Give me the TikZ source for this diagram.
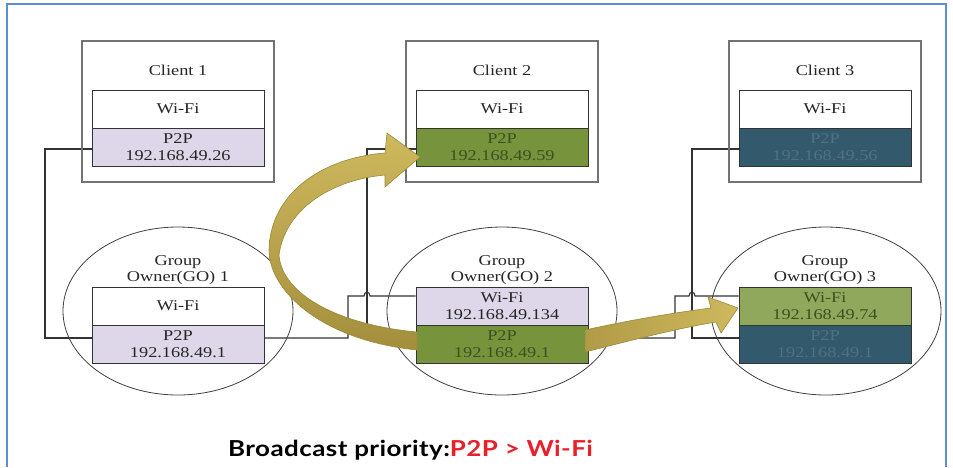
\documentclass[tikz,border=0pt]{standalone}
\usepackage{fontspec}
\usetikzlibrary{shapes.geometric}
\newfontfamily\boxfont[FakeStretch=1.22]{Liberation Serif}
\newfontfamily\capfont[FakeStretch=1.18, LetterSpace=2]{Lato}

\definecolor{framecol}{HTML}{5B8ED6}
\definecolor{lav}{HTML}{DDD7E9}
\definecolor{grn}{HTML}{77933C}
\definecolor{ltgrn}{HTML}{8FA85C}
\definecolor{teal}{HTML}{33596D}
\definecolor{grntext}{HTML}{3A5220}
\definecolor{tealtext}{HTML}{50717F}
\definecolor{gold}{HTML}{CFB95E}
\definecolor{olive}{HTML}{A38E3C}
\definecolor{arrowedge}{HTML}{9A8A3A}
\definecolor{capred}{HTML}{E8202A}

\pgfdeclarelayer{wires}
\pgfdeclarelayer{backdrop}
\pgfsetlayers{backdrop,wires,main}

\tikzset{
  clientbox/.style={draw=black!55, line width=1.3pt, rectangle, inner sep=0pt,
    minimum width=192pt, minimum height=141pt},
  cell/.style={draw=black!80, line width=0.8pt, rectangle, inner sep=0pt,
    minimum width=172pt, minimum height=38pt, align=center,
    font=\boxfont\fontsize{15}{17}\selectfont, text=black!85},
  title/.style={align=center, font=\boxfont\fontsize{15}{16}\selectfont, text=black!85},
  goshape/.style={draw=black!75, line width=0.8pt, ellipse, inner sep=0pt,
    minimum width=230pt, minimum height=168pt},
  wire/.style={draw=black!80, line width=1.1pt},
  bigarrow/.style={draw=arrowedge, line width=0.6pt},
}

\begin{document}
\begin{tikzpicture}[x=1pt, y=-1pt]
\useasboundingbox (0,0) rectangle (953,467);
\begin{pgfonlayer}{backdrop}
\fill[white] (0,0) rectangle (953,467);
\end{pgfonlayer}

% slide frame
\draw[framecol, line width=1.6pt] (7,467) -- (7,4) -- (946,4) -- (946,467);

% group owners
\node[goshape] (g1) at (178,311) {};
\node[goshape] (g2) at (502,311) {};
\node[goshape] (g3) at (826,311) {};

% clients
\node[clientbox] (c1) at (178,111.5) {};
\node[title] (c1t) at (178,70) {Client 1};
\node[cell, fill=white] (c1w) at (178,109) {Wi-Fi};
\node[cell, fill=lav] (c1p) at (178,147) {P2P\\192.168.49.26};

\node[clientbox] (c2) at (502,111.5) {};
\node[title] (c2t) at (502,70) {Client 2};
\node[cell, fill=white] (c2w) at (502,109) {Wi-Fi};
\node[cell, fill=grn, text=grntext] (c2p) at (502,147) {P2P\\192.168.49.59};

\node[clientbox] (c3) at (825,111.5) {};
\node[title] (c3t) at (825,70) {Client 3};
\node[cell, fill=white] (c3w) at (825,109) {Wi-Fi};
\node[cell, fill=teal, text=tealtext] (c3p) at (825,147) {P2P\\192.168.49.56};

% group owner interfaces
\node[title] (g1t) at (178,270) {Group\\Owner(GO) 1};
\node[cell, fill=white] (g1w) at (178,306) {Wi-Fi};
\node[cell, fill=lav] (g1p) at (178,344) {P2P\\192.168.49.1};

\node[title] (g2t) at (502,270) {Group\\Owner(GO) 2};
\node[cell, fill=lav] (g2w) at (502,306) {Wi-Fi\\192.168.49.134};
\node[cell, fill=grn, text=grntext] (g2p) at (502,344) {P2P\\192.168.49.1};

\node[title] (g3t) at (825,270) {Group\\Owner(GO) 3};
\node[cell, fill=ltgrn, text=grntext] (g3w) at (825,306) {Wi-Fi\\192.168.49.74};
\node[cell, fill=teal, text=tealtext] (g3p) at (825,344) {P2P\\192.168.49.1};

% wiring between interfaces, kept behind the boxes
\begin{pgfonlayer}{wires}
\draw[wire] ([yshift=-2pt]c1p.west) -- (45,149) -- (45,338) -- ([yshift=6pt]g1p.west);
\draw[wire] ([yshift=6pt]g1p.east) -- (348,338) -- (348,296) -- (364,296)
  .. controls (364,291) and (370,291) .. (370,296) -- ([yshift=10pt]g2w.west);
\draw[wire] ([yshift=-2pt]c2p.west) -- (367,149) -- (367,338) -- ([yshift=6pt]g2p.west);
\draw[wire] ([yshift=6pt]g2p.east) -- (675,338) -- (675,296) -- (689,296)
  .. controls (689,291) and (695,291) .. (695,296) -- ([yshift=10pt]g3w.west);
\draw[wire] ([yshift=-2pt]c3p.west) -- (692,149) -- (692,338) -- ([yshift=6pt]g3p.west);
\end{pgfonlayer}

% broadcast paths
\path[bigarrow, top color=gold, bottom color=olive]
  (417,332) .. controls (340,325) and (282,295) .. (279,255)
  .. controls (285,210) and (330,180) .. (385,175)
  -- (385,187) -- (420,157) -- (387,133) -- (385,153)
  .. controls (320,158) and (270,195) .. (269,250)
  .. controls (269,290) and (320,340) .. (417,350) -- cycle;
\path[bigarrow, left color=olive!70!gold, right color=gold]
  (585,330) .. controls (640,318) and (680,312) .. (711,308)
  -- (708,297) -- (738,308) -- (721,333) -- (716,322)
  .. controls (680,328) and (640,338) .. (585,352) -- cycle;

% caption
\node[anchor=base west, inner sep=0pt, font=\capfont\bfseries\fontsize{22}{24}\selectfont]
  (cap) at (228,456) {Broadcast priority:\textcolor{capred}{P2P > Wi-Fi}};
\end{tikzpicture}
\end{document}
